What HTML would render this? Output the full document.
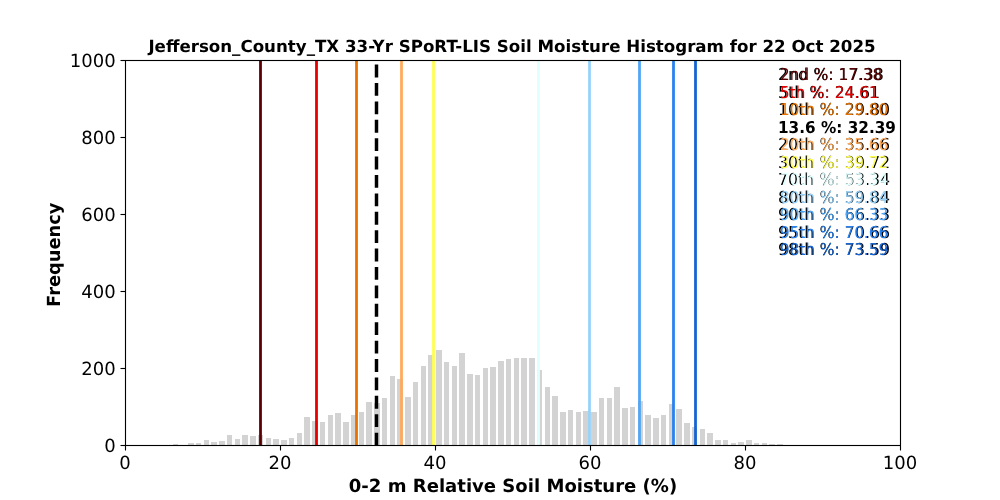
<!DOCTYPE html>
<html lang="en"><head><meta charset="utf-8">
<title>Jefferson_County_TX 33-Yr SPoRT-LIS Soil Moisture Histogram</title>
<style>
html,body{margin:0;padding:0;background:#fff;}
body{width:1000px;height:500px;overflow:hidden;}
svg{display:block;}
text{font-family:"DejaVu Sans","Liberation Sans",sans-serif;fill:#000;text-rendering:geometricPrecision;}
.b{font-weight:bold;}
.tk{font-size:18.0556px;}
.lb{font-size:18.0556px;font-weight:bold;}
.tt{font-size:16.6667px;font-weight:bold;}
.lg{font-size:15.2778px;}
.sh{font-size:15.8333px;}
.bar{fill:#d3d3d3;shape-rendering:crispEdges;}
.vl{stroke-width:2.7778;fill:none;}
.ax{stroke:#000;stroke-width:1.1111;fill:none;}
</style></head><body>
<svg width="1000" height="500" viewBox="0 0 1000 500">
<rect x="0" y="0" width="1000" height="500" fill="#ffffff"/>
<g class="bar">
<rect x="173" y="444" width="5" height="1"/>
<rect x="188" y="443" width="6" height="2"/>
<rect x="196" y="443" width="5" height="2"/>
<rect x="204" y="440" width="5" height="5"/>
<rect x="211" y="442" width="6" height="3"/>
<rect x="219" y="441" width="6" height="4"/>
<rect x="227" y="435" width="5" height="10"/>
<rect x="235" y="439" width="5" height="6"/>
<rect x="242" y="435" width="6" height="10"/>
<rect x="250" y="436" width="6" height="9"/>
<rect x="258" y="435" width="5" height="10"/>
<rect x="266" y="438" width="5" height="7"/>
<rect x="273" y="439" width="6" height="6"/>
<rect x="281" y="440" width="6" height="5"/>
<rect x="289" y="438" width="5" height="7"/>
<rect x="297" y="433" width="5" height="12"/>
<rect x="304" y="417" width="6" height="28"/>
<rect x="312" y="421" width="6" height="24"/>
<rect x="320" y="422" width="5" height="23"/>
<rect x="328" y="415" width="5" height="30"/>
<rect x="335" y="413" width="6" height="32"/>
<rect x="343" y="422" width="6" height="23"/>
<rect x="351" y="415" width="5" height="30"/>
<rect x="359" y="412" width="5" height="33"/>
<rect x="366" y="402" width="6" height="43"/>
<rect x="374" y="403" width="6" height="42"/>
<rect x="382" y="398" width="5" height="47"/>
<rect x="390" y="376" width="5" height="69"/>
<rect x="397" y="379" width="6" height="66"/>
<rect x="405" y="397" width="6" height="48"/>
<rect x="413" y="382" width="5" height="63"/>
<rect x="421" y="366" width="5" height="79"/>
<rect x="428" y="355" width="6" height="90"/>
<rect x="436" y="350" width="6" height="95"/>
<rect x="444" y="362" width="5" height="83"/>
<rect x="452" y="366" width="5" height="79"/>
<rect x="459" y="353" width="6" height="92"/>
<rect x="467" y="374" width="6" height="71"/>
<rect x="475" y="375" width="5" height="70"/>
<rect x="483" y="368" width="5" height="77"/>
<rect x="490" y="367" width="6" height="78"/>
<rect x="498" y="361" width="6" height="84"/>
<rect x="506" y="359" width="5" height="86"/>
<rect x="514" y="358" width="5" height="87"/>
<rect x="521" y="358" width="6" height="87"/>
<rect x="529" y="358" width="6" height="87"/>
<rect x="537" y="370" width="5" height="75"/>
<rect x="545" y="387" width="5" height="58"/>
<rect x="552" y="396" width="6" height="49"/>
<rect x="560" y="412" width="6" height="33"/>
<rect x="568" y="410" width="5" height="35"/>
<rect x="576" y="412" width="5" height="33"/>
<rect x="583" y="411" width="6" height="34"/>
<rect x="591" y="412" width="6" height="33"/>
<rect x="599" y="398" width="5" height="47"/>
<rect x="607" y="398" width="5" height="47"/>
<rect x="614" y="387" width="6" height="58"/>
<rect x="622" y="408" width="6" height="37"/>
<rect x="630" y="407" width="5" height="38"/>
<rect x="638" y="401" width="5" height="44"/>
<rect x="645" y="415" width="6" height="30"/>
<rect x="653" y="418" width="6" height="27"/>
<rect x="661" y="415" width="5" height="30"/>
<rect x="669" y="404" width="5" height="41"/>
<rect x="676" y="409" width="6" height="36"/>
<rect x="684" y="423" width="6" height="22"/>
<rect x="692" y="427" width="5" height="18"/>
<rect x="700" y="429" width="5" height="16"/>
<rect x="707" y="433" width="6" height="12"/>
<rect x="715" y="440" width="6" height="5"/>
<rect x="723" y="440" width="5" height="5"/>
<rect x="731" y="443" width="5" height="2"/>
<rect x="738" y="442" width="6" height="3"/>
<rect x="746" y="440" width="6" height="5"/>
<rect x="754" y="443" width="5" height="2"/>
<rect x="762" y="443" width="5" height="2"/>
<rect x="769" y="444" width="6" height="1"/>
<rect x="777" y="444" width="6" height="1"/>
</g>
<g class="vl">
<line x1="260.5" y1="60.5" x2="260.5" y2="445.5" stroke="#5a0000"/>
<line x1="316.5" y1="60.5" x2="316.5" y2="445.5" stroke="#e60000"/>
<line x1="356.5" y1="60.5" x2="356.5" y2="445.5" stroke="#e67300"/>
<line x1="376.5" y1="445.5" x2="376.5" y2="60.5" stroke="#000" stroke-width="3.4722" stroke-dasharray="12.847 5.556"/>
<line x1="401.5" y1="60.5" x2="401.5" y2="445.5" stroke="#ffaa5a"/>
<line x1="433.5" y1="60.5" x2="433.5" y2="445.5" stroke="#ffff50"/>
<line x1="538.5" y1="60.5" x2="538.5" y2="445.5" stroke="#e0ffff"/>
<line x1="589.5" y1="60.5" x2="589.5" y2="445.5" stroke="#96d2fa"/>
<line x1="639.5" y1="60.5" x2="639.5" y2="445.5" stroke="#50a5f5"/>
<line x1="673.5" y1="60.5" x2="673.5" y2="445.5" stroke="#2882f0"/>
<line x1="695.5" y1="60.5" x2="695.5" y2="445.5" stroke="#1464d2"/>
</g>
<g class="ax">
<line x1="125.5" y1="445.5" x2="125.5" y2="450.5"/>
<line x1="280.5" y1="445.5" x2="280.5" y2="450.5"/>
<line x1="435.5" y1="445.5" x2="435.5" y2="450.5"/>
<line x1="590.5" y1="445.5" x2="590.5" y2="450.5"/>
<line x1="745.5" y1="445.5" x2="745.5" y2="450.5"/>
<line x1="900.5" y1="445.5" x2="900.5" y2="450.5"/>
<line x1="120.5" y1="445.5" x2="125.5" y2="445.5"/>
<line x1="120.5" y1="368.5" x2="125.5" y2="368.5"/>
<line x1="120.5" y1="291.5" x2="125.5" y2="291.5"/>
<line x1="120.5" y1="214.5" x2="125.5" y2="214.5"/>
<line x1="120.5" y1="137.5" x2="125.5" y2="137.5"/>
<line x1="120.5" y1="60.5" x2="125.5" y2="60.5"/>
<rect x="125.5" y="60.5" width="775" height="385"/>
</g>
<g class="tk" text-anchor="middle">
<text x="125.00" y="469.00">0</text>
<text x="280.00" y="469.00">20</text>
<text x="435.00" y="469.00">40</text>
<text x="590.00" y="469.00">60</text>
<text x="745.00" y="469.00">80</text>
<text x="900.00" y="469.00">100</text>
</g>
<g class="tk" text-anchor="end">
<text x="115.80" y="451.50">0</text>
<text x="115.80" y="374.50">200</text>
<text x="115.80" y="297.50">400</text>
<text x="115.80" y="220.50">600</text>
<text x="115.80" y="143.50">800</text>
<text x="115.80" y="66.50">1000</text>
</g>
<text class="tt" text-anchor="middle" x="512.00" y="52.00">Jefferson_County_TX 33-Yr SPoRT-LIS Soil Moisture Histogram for 22 Oct 2025</text>
<text class="lb" text-anchor="middle" x="513.00" y="492.00">0-2 m Relative Soil Moisture (%)</text>
<text class="lb" text-anchor="middle" transform="translate(60.00 254.70) rotate(-90) scale(0.9880 1)">Frequency</text>
<text class="sh" transform="matrix(1.0000 0 0 1.0350 778.00 80.00)">2nd %: 17.38</text>
<text class="lg" transform="matrix(1.0000 0 0 1.0700 780.00 80.00)" style="fill:#5a0000">2nd %: 17.38</text>
<text class="sh" transform="matrix(1.0000 0 0 1.0350 778.00 97.50)">5th %: 24.61</text>
<text class="lg" transform="matrix(1.0000 0 0 1.0700 780.00 97.50)" style="fill:#e60000">5th %: 24.61</text>
<text class="sh" transform="matrix(1.0000 0 0 1.0350 778.00 115.00)">10th %: 29.80</text>
<text class="lg" transform="matrix(1.0000 0 0 1.0700 780.00 115.00)" style="fill:#e67300">10th %: 29.80</text>
<text class="lg b" transform="matrix(1.0000 0 0 1.0700 778.00 132.50)">13.6 %: 32.39</text>
<text class="sh" transform="matrix(1.0000 0 0 1.0350 778.00 150.00)">20th %: 35.66</text>
<text class="lg" transform="matrix(1.0000 0 0 1.0700 780.00 150.00)" style="fill:#ffaa5a">20th %: 35.66</text>
<text class="sh" transform="matrix(1.0000 0 0 1.0350 778.00 167.50)">30th %: 39.72</text>
<text class="lg" transform="matrix(1.0000 0 0 1.0700 780.00 167.50)" style="fill:#ffff50">30th %: 39.72</text>
<text class="sh" transform="matrix(1.0000 0 0 1.0350 778.00 185.00)">70th %: 53.34</text>
<text class="lg" transform="matrix(1.0000 0 0 1.0700 780.00 185.00)" style="fill:#e0ffff">70th %: 53.34</text>
<text class="sh" transform="matrix(1.0000 0 0 1.0350 778.00 202.50)">80th %: 59.84</text>
<text class="lg" transform="matrix(1.0000 0 0 1.0700 780.00 202.50)" style="fill:#96d2fa">80th %: 59.84</text>
<text class="sh" transform="matrix(1.0000 0 0 1.0350 778.00 220.00)">90th %: 66.33</text>
<text class="lg" transform="matrix(1.0000 0 0 1.0700 780.00 220.00)" style="fill:#50a5f5">90th %: 66.33</text>
<text class="sh" transform="matrix(1.0000 0 0 1.0350 778.00 237.50)">95th %: 70.66</text>
<text class="lg" transform="matrix(1.0000 0 0 1.0700 780.00 237.50)" style="fill:#2882f0">95th %: 70.66</text>
<text class="sh" transform="matrix(1.0000 0 0 1.0350 778.00 255.00)">98th %: 73.59</text>
<text class="lg" transform="matrix(1.0000 0 0 1.0700 780.00 255.00)" style="fill:#1464d2">98th %: 73.59</text>
</svg>
</body></html>
